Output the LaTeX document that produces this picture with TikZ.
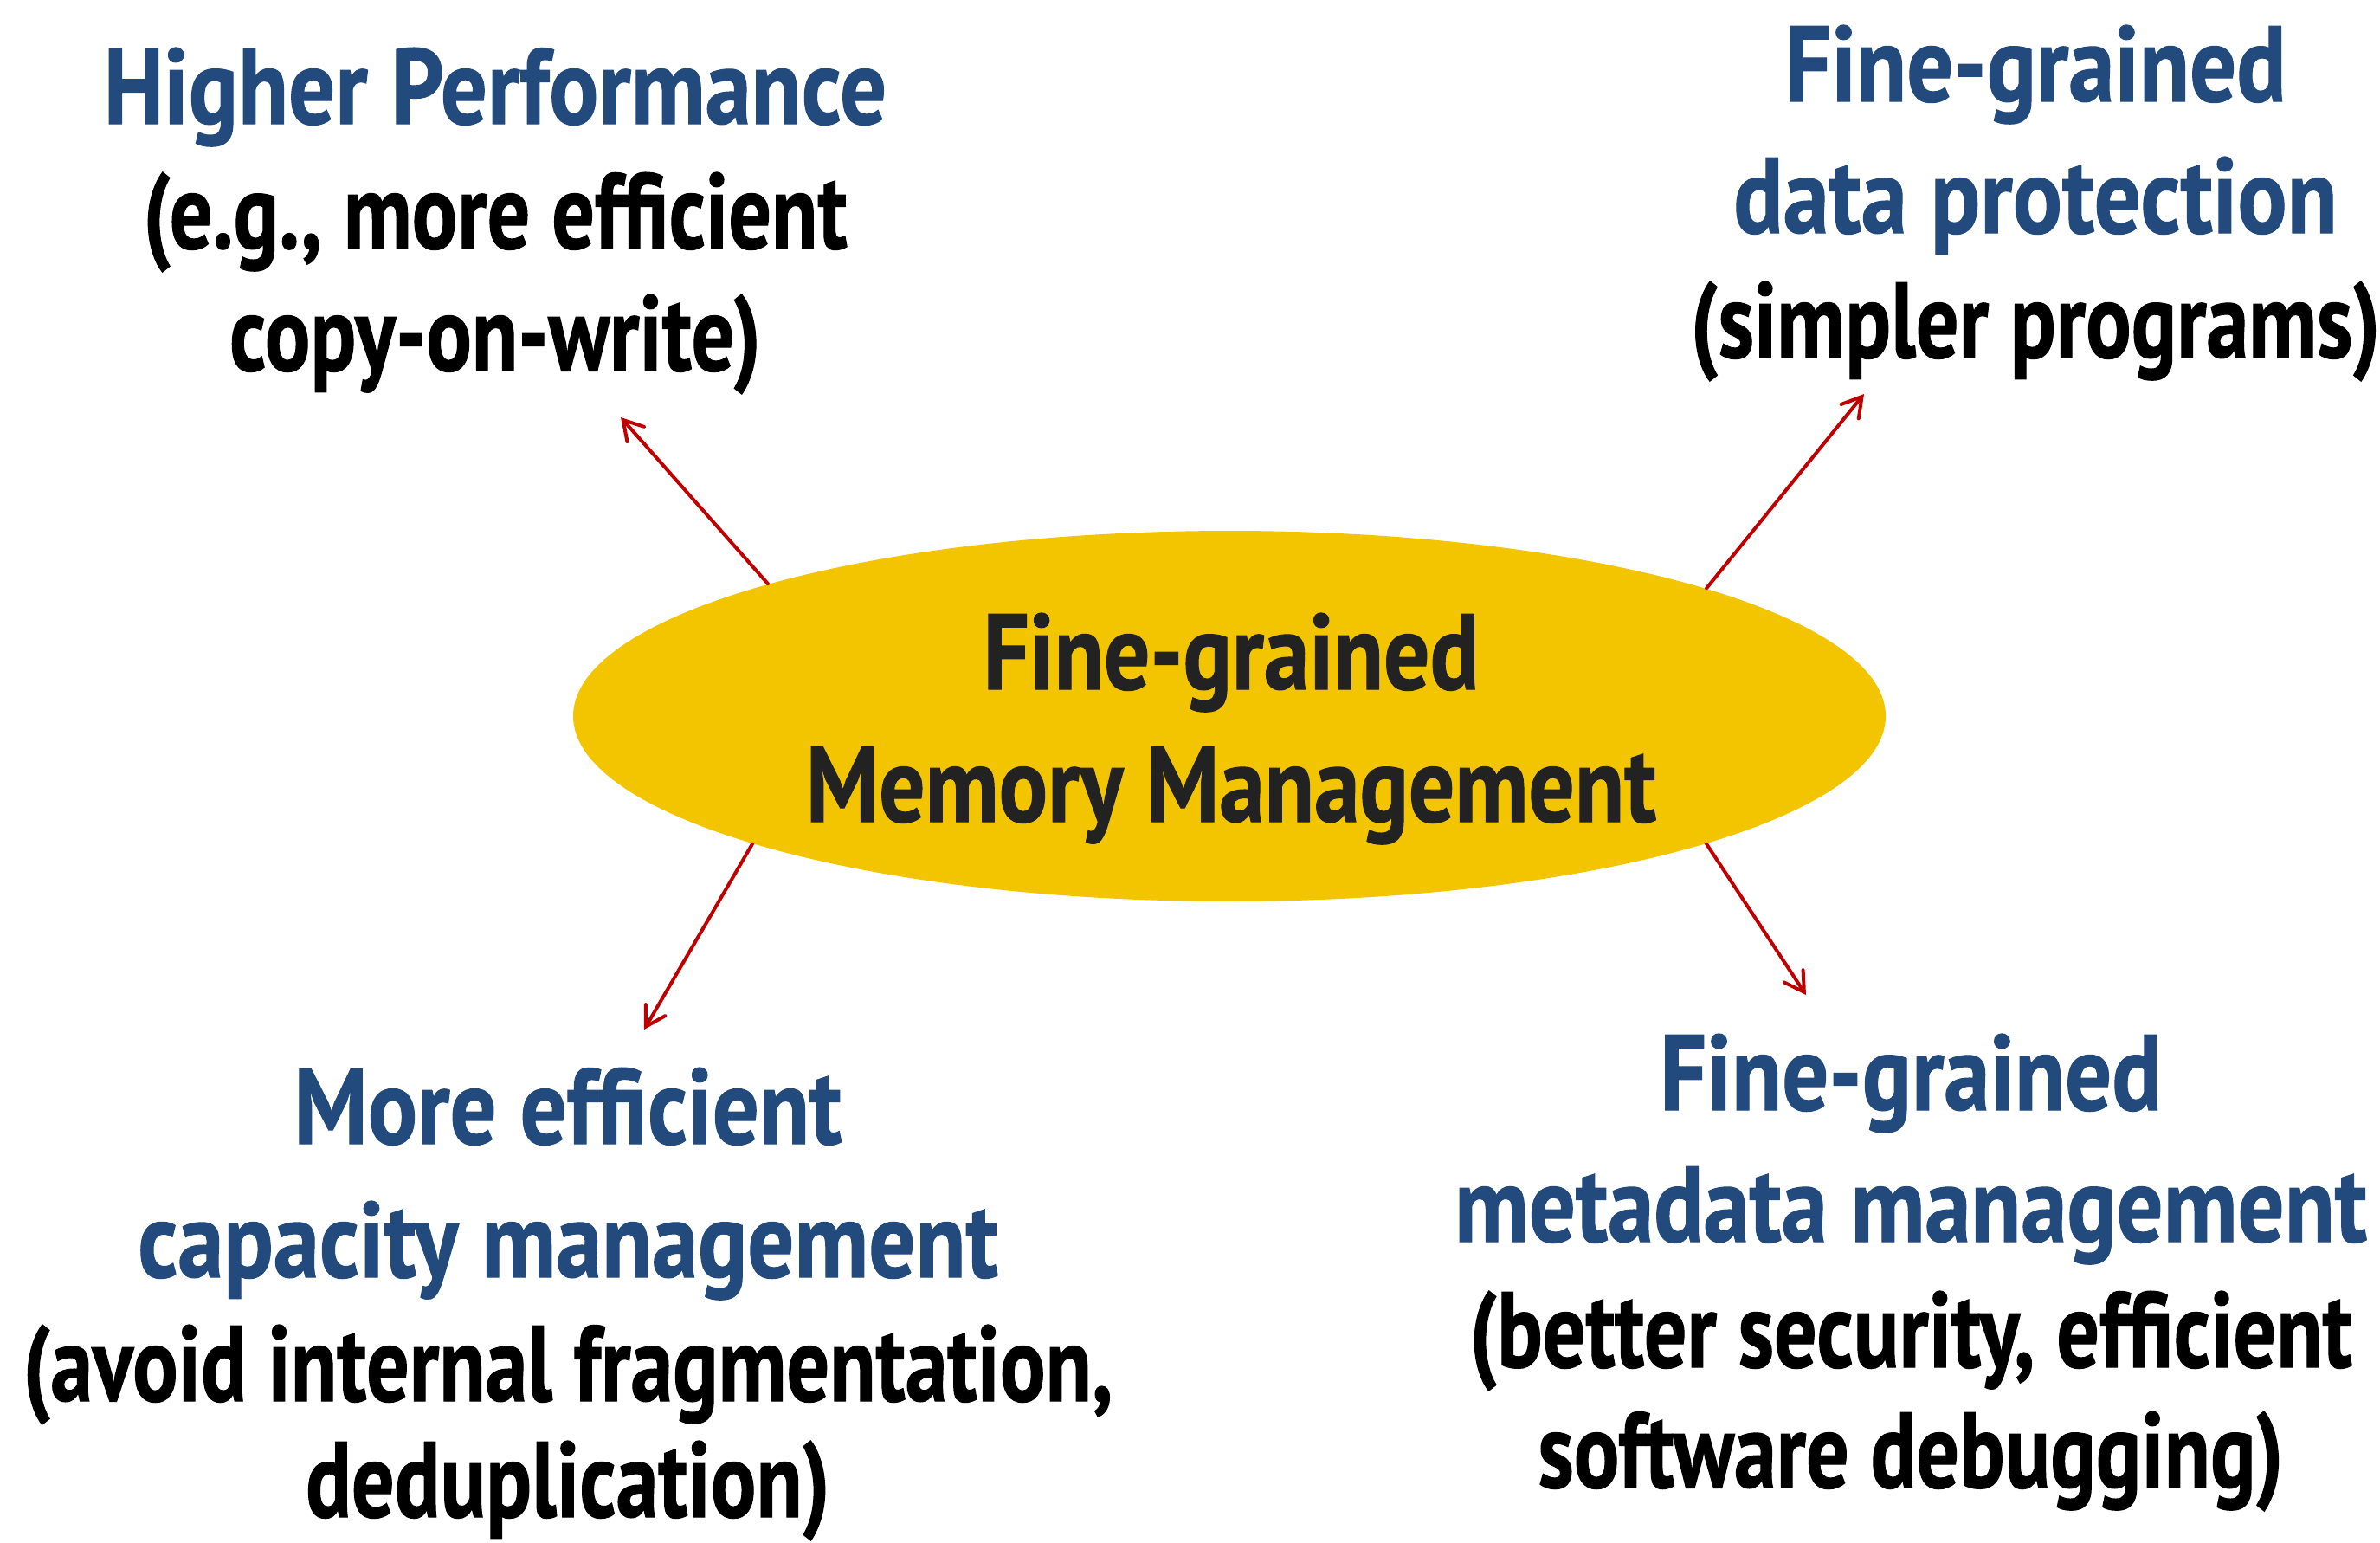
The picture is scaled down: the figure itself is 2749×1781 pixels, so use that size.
\documentclass[tikz,border=0pt]{standalone}
\usepackage{fontspec}
\setmainfont{PT Sans}
% condensed bold faces for the three kinds of label
\newfontfamily\headface{PT Sans Bold}[FakeStretch=0.86, FakeBold=0.8]
\newfontfamily\noteface{PT Sans Bold}[FakeStretch=0.79, FakeBold=0.8]
\newfontfamily\coreface{PT Sans Bold}[FakeStretch=0.85, FakeBold=0.8]
\usetikzlibrary{shapes.geometric,arrows.meta}

\definecolor{headblue}{HTML}{224A7C}
\definecolor{coreyellow}{HTML}{F2C500}
\definecolor{coretext}{HTML}{222222}
\definecolor{arrowred}{HTML}{C00000}

\newcommand{\labelsize}{\fontsize{31pt}{36pt}\selectfont}

\tikzset{
  head/.style={anchor=base, inner sep=0pt, text=headblue, font=\headface\labelsize},
  note/.style={anchor=base, inner sep=0pt, text=black, font=\noteface\labelsize},
  coreline/.style={anchor=base, inner sep=0pt, text=coretext, font=\coreface\labelsize},
  corebox/.style={ellipse, fill=coreyellow, draw=none, inner sep=0pt,
    minimum width=379pt, minimum height=107pt},
  pointer/.style={draw=arrowred, line width=1pt, line cap=round,
    -{Straight Barb[length=5.5pt, width=6.5pt, line cap=round]}}
}

\begin{document}
\begin{tikzpicture}[x=0.25pt, y=-0.25pt]
  \useasboundingbox (0,0) rectangle (2749,1781);

  % central ellipse
  \node[corebox] (core) at (1420,827) {};
  \node[coreline] (core1) at (1422,796) {Fine-grained};
  \node[coreline] (core2) at (1422,949) {Memory Management};

  % upper left
  \node[head] (hp1) at (572,143) {Higher Performance};
  \node[note] (hp2) at (572,287) {(e.g., more efficient};
  \node[note] (hp3) at (572,428) {copy-on-write)};

  % upper right
  \node[head] (dp1) at (2351,117) {Fine-grained};
  \node[head] (dp2) at (2351,269) {data protection};
  \node[note] (dp3) at (2351,413) {(simpler programs)};

  % lower left
  \node[head] (cm1) at (656,1321) {More efficient};
  \node[head] (cm2) at (656,1475) {capacity management};
  \node[note] (cm3) at (656,1618) {(avoid internal fragmentation,};
  \node[note] (cm4) at (656,1752) {deduplication)};

  % lower right
  \node[head] (mm1) at (2207,1282) {Fine-grained};
  \node[head] (mm2) at (2207,1434) {metadata management};
  \node[note] (mm3) at (2207,1579) {(better security, efficient};
  \node[note] (mm4) at (2207,1718) {software debugging)};

  % arrow tips
  \coordinate (tipNW) at (717,482);
  \coordinate (tipNE) at (2153,455);
  \coordinate (tipSW) at (744,1189);
  \coordinate (tipSE) at (2086,1149);

  \draw[pointer] (core.164.3) -- (tipNW);
  \draw[pointer] (core.15.6) -- (tipNE);
  \draw[pointer] (core.195.8) -- (tipSW);
  \draw[pointer] (core.-15.7) -- (tipSE);
\end{tikzpicture}
\end{document}
